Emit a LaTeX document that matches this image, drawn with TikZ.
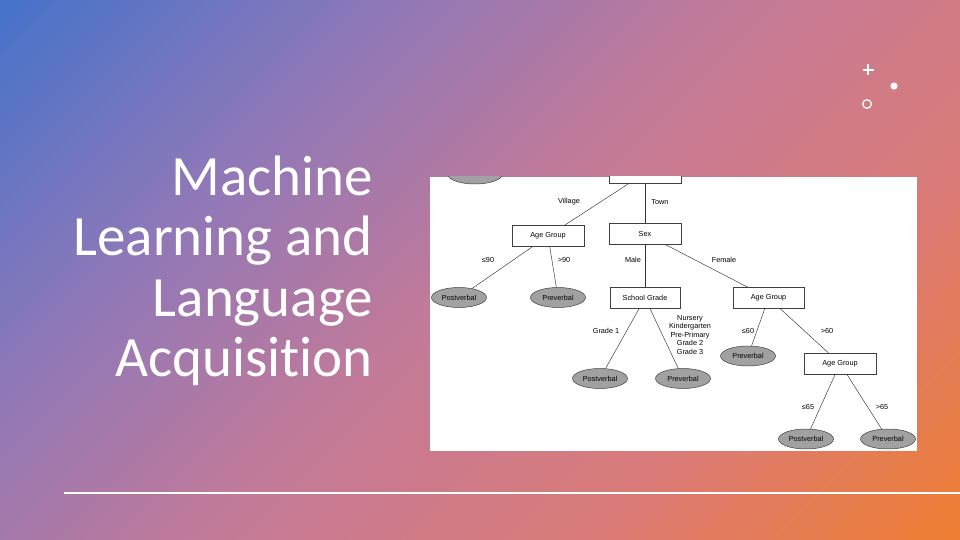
\documentclass[tikz,border=0pt]{standalone}
\usepackage{fontspec}
\setmainfont{Carlito}[Ligatures=NoCommon]
\newfontfamily\treefont{Liberation Sans}
\usetikzlibrary{shapes.geometric}

% slide background: blue -> violet -> pink -> orange along the diagonal
\definecolor{bgA}{HTML}{4673CA}
\definecolor{bgB}{HTML}{8F78B8}
\definecolor{bgC}{HTML}{C37A98}
\definecolor{bgD}{HTML}{DB7B78}
\definecolor{bgE}{HTML}{EE7E33}
\pgfdeclarehorizontalshading{slidebg}{100bp}{color(0bp)=(bgA); color(15bp)=(bgA); color(33bp)=(bgB); color(50bp)=(bgC); color(68bp)=(bgD); color(85bp)=(bgE); color(100bp)=(bgE)}

\tikzset{
  treetext/.style={font=\treefont\fontsize{7.3}{8.5}\selectfont},
  splitbox/.style={treetext, draw=black!75, fill=white, line width=0.5pt,
    minimum width=72pt, minimum height=21pt, inner sep=0pt},
  leaf/.style={treetext, ellipse, draw=black!75, fill=black!37, line width=0.5pt,
    minimum width=55pt, minimum height=20pt, inner sep=0pt},
  branch/.style={draw=black!80, line width=0.45pt},
  lbl/.style={treetext, inner sep=0pt},
  title/.style={text=white, font=\fontsize{57}{60}\selectfont, anchor=base east, inner sep=0pt},
}

\begin{document}
\begin{tikzpicture}[x=1pt,y=-1pt]
  \useasboundingbox (0,0) rectangle (960,540);
  \shade[shading=slidebg, shading angle=-45] (0,0) rectangle (960,540);

  % title
  \node[title] (t1) at (373,195) {Machine};
  \node[title] (t2) at (373,255.5) {Learning and};
  \node[title] (t3) at (373,316) {Language};
  \node[title] (t4) at (373,376.5) {Acquisition};

  % small ornaments
  \draw[white, line width=1.3pt] (862.5,70) -- (873.5,70) (868,64.5) -- (868,75.5);
  \fill[white] (894,86) circle (3.6);
  \draw[white, line width=1.3pt] (867,104) circle (4.3);

  % footer rule
  \draw[white, line width=1.6pt] (64,493) -- (960,493);

  % decision tree panel
  \fill[white] (430,177) rectangle (917,451);
  \begin{scope}
    \clip (430,177) rectangle (917,451);
    \node[splitbox] (root) at (645,173) {};
    \node[leaf] (lf0) at (475,174) {};
    \node[splitbox] (ag1) at (548,236) {Age Group};
    \node[splitbox] (sex) at (645,234) {Sex};
    \node[leaf] (pv1) at (459,297.5) {Postverbal};
    \node[leaf] (pr1) at (558,297.5) {Preverbal};
    \node[splitbox, minimum width=70pt] (sg) at (645,298) {School Grade};
    \node[splitbox, minimum width=71pt] (ag2) at (768.5,298) {Age Group};
    \node[leaf] (pv2) at (600,378.5) {Postverbal};
    \node[leaf] (pr2) at (683,378.5) {Preverbal};
    \node[leaf] (pr3) at (748,356) {Preverbal};
    \node[splitbox] (ag3) at (840,363.5) {Age Group};
    \node[leaf] (pv3) at (806,439) {Postverbal};
    \node[leaf] (pr4) at (888,439) {Preverbal};

    \draw[branch] (root) -- (ag1);
    \draw[branch] (root) -- (sex);
    \draw[branch] (ag1) -- (pv1);
    \draw[branch] (ag1) -- (pr1);
    \draw[branch] (sex) -- (sg);
    \draw[branch] (sex) -- (ag2);
    \draw[branch] (sg) -- (pv2);
    \draw[branch] (sg) -- (pr2);
    \draw[branch] (ag2) -- (pr3);
    \draw[branch] (ag2) -- (ag3);
    \draw[branch] (ag3) -- (pv3);
    \draw[branch] (ag3) -- (pr4);

    \node[lbl] (l1) at (569,202) {Village};
    \node[lbl] (l2) at (660,202) {Town};
    \node[lbl] (l3) at (488,260) {≤90};
    \node[lbl] (l4) at (564,260) {>90};
    \node[lbl] (l5) at (633,260) {Male};
    \node[lbl] (l6) at (724,260) {Female};
    \node[lbl] (l7) at (606,331) {Grade 1};
    \node[lbl, align=center] (l8) at (690,335) {Nursery\\Kindergarten\\Pre-Primary\\Grade 2\\Grade 3};
    \node[lbl] (l9) at (748,331) {≤60};
    \node[lbl] (l10) at (827,331) {>60};
    \node[lbl] (l11) at (808,407) {≤65};
    \node[lbl] (l12) at (882,407) {>65};
  \end{scope}
\end{tikzpicture}
\end{document}
